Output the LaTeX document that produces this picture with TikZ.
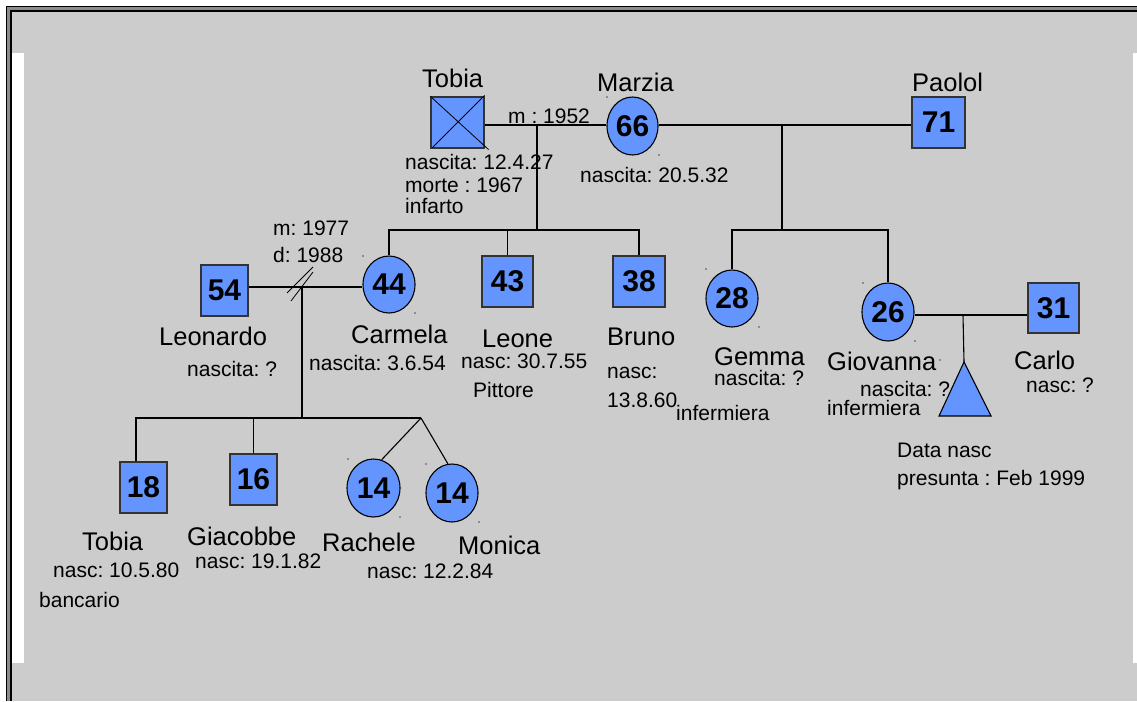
\documentclass[tikz,border=0pt]{standalone}
\usepackage{fontspec}
\setmainfont{Liberation Sans}
\usetikzlibrary{shapes.geometric,calc}
\definecolor{pblue}{RGB}{100,149,255}
\definecolor{bggray}{RGB}{204,204,204}
\frenchspacing
\newcommand\numfnt{\fontsize{30}{32}\selectfont\bfseries}
\newcommand\namefnt{\fontsize{25.5}{28}\selectfont}
\newcommand\inffnt{\fontsize{21}{24}\selectfont}
\tikzset{
  sq/.style={rectangle, draw=black!80, line width=1.2pt, fill=pblue, inner sep=0pt, font=\numfnt},
  ci/.style={ellipse, draw=black, line width=1.1pt, fill=pblue, inner sep=0pt, font=\numfnt},
  nm/.style={anchor=base west, inner sep=0pt, font=\namefnt},
  inf/.style={anchor=base west, inner sep=0pt, font=\inffnt},
  ln/.style={line width=1.1pt, black},
  tick/.style={line width=0.8pt, black},
  speck/.style={fill=black!70}
}
\begin{document}
\frenchspacing
\begin{tikzpicture}[x=1pt,y=-1pt]
\useasboundingbox (0,0) rectangle (1137,701);
\fill[white] (0,0) rectangle (1137,701);
\fill[bggray] (6,6) rectangle (1137,701);
\fill[white] (12,53) rectangle (24,663);
\fill[white] (1133,53) rectangle (1137,663);
\draw[line width=4pt, black!45] (8.7,701) -- (8.7,8.7) -- (1137,8.7);
\draw[line width=1.3pt] (6.5,701) -- (6.5,6.5) -- (1137,6.5);
\draw[line width=1.6pt] (10.8,701) -- (10.8,10.8) -- (1137,10.8);

% persons
\node[sq, minimum width=53, minimum height=51] (tobia) at (457.5,122.5) {};
\draw[tick] (tobia.north west) -- ($(tobia.south east)+(4,1)$);
\draw[tick] ($(tobia.north east)+(0,-1)$) -- ($(tobia.south west)+(2,-1)$);
\node[ci, minimum width=51, minimum height=58] (marzia) at (632.5,126) {66};
\node[sq, minimum width=53, minimum height=51] (paolol) at (938.5,122.5) {71};
\node[sq, minimum width=47, minimum height=51] (s54) at (224.5,290.5) {54};
\node[ci, minimum width=52, minimum height=57] (c44) at (389,284.5) {44};
\node[sq, minimum width=51, minimum height=51] (s43) at (507.5,281.5) {43};
\node[sq, minimum width=52, minimum height=51] (s38) at (639,281.5) {38};
\node[ci, minimum width=52, minimum height=57] (c28) at (732,298.5) {28};
\node[ci, minimum width=52, minimum height=58] (c26) at (888,312) {26};
\node[sq, minimum width=51, minimum height=50] (s31) at (1053.5,308) {31};
\node[sq, minimum width=47, minimum height=51] (s18) at (143.5,487.5) {18};
\node[sq, minimum width=47, minimum height=51] (s16) at (253.5,479.5) {16};
\node[ci, minimum width=53, minimum height=58] (c14a) at (373.5,488) {14};
\node[ci, minimum width=52, minimum height=58] (c14b) at (452,493) {14};
\coordinate (tri) at (964,362);
\filldraw[fill=pblue, draw=black, line width=1.1pt] (tri) -- (991,416) -- (939,416) -- cycle;

% specks
\foreach \p in {(607,97),(659,155),(363,256),(415,313),(706,269),(759,327),(863,283),(915,341),(348,459),(400,517),(426,464),(479,522),(940,360)}
  \fill[speck] \p circle (0.9);

% connectors
\coordinate (m1) at (537,125);
\coordinate (bar1) at (537,230);
\draw[ln] (tobia.east |- m1) -- (marzia.west |- m1);
\draw[ln] (m1) -- (bar1);
\draw[ln] (c44.north) -- (c44.north |- bar1) -- (s38.north |- bar1) -- (s38.north);
\draw[ln] (s43.north) -- (s43.north |- bar1);

\coordinate (m2) at (782,125);
\coordinate (bar2) at (782,230);
\draw[ln] (marzia.east |- m2) -- (paolol.west |- m2);
\draw[ln] (m2) -- (bar2);
\draw[ln] (c28.north) -- (c28.north |- bar2) -- (c26.north |- bar2) -- (c26.north);

\coordinate (m3) at (302,287);
\coordinate (bar3) at (302,418);
\draw[ln] (s54.east |- m3) -- (c44.west |- m3);
\draw[ln] (m3) -- (bar3);
\draw[tick] ($(m3)+(-15,6)$) -- ($(m3)+(11,-20)$);
\draw[tick] ($(m3)+(-11,14)$) -- ($(m3)+(11,-15)$);

\coordinate (k18) at (136,418);
\coordinate (tw) at (421,418);
\draw[ln] (k18 |- s18.north) -- (k18) -- (tw);
\draw[ln] (s16.north) -- (s16.north |- bar3);
\draw[ln] (tw) -- (c14a.74);
\draw[ln] (tw) -- (c14b.98);

\coordinate (gc) at (963,315);
\draw[ln] (c26.east |- gc) -- (s31.west |- gc);
\draw[ln] (gc) -- (tri);

% names
\node[nm] (ntobia) at (422,88) {Tobia};
\node[nm] (nmarzia) at (597,92) {Marzia};
\node[nm] (npaolol) at (912,92) {Paolol};
\node[nm] (nleonardo) at (159,345) {Leonardo};
\node[nm] (ncarmela) at (351,343) {Carmela};
\node[nm] (nleone) at (482,347) {Leone};
\node[nm] (nbruno) at (607,345) {Bruno};
\node[nm] (ngemma) at (714,365) {Gemma};
\node[nm] (ngiovanna) at (827,370) {Giovanna};
\node[nm] (ncarlo) at (1014,369) {Carlo};
\node[nm] (ntobia2) at (82,550) {Tobia};
\node[nm] (ngiacobbe) at (187,545) {Giacobbe};
\node[nm] (nrachele) at (322,551) {Rachele};
\node[nm] (nmonica) at (458,554) {Monica};

% info
\node[inf] (i1) at (508,123) {m : 1952};
\node[inf] (i2) at (405,169) {nascita: 12.4.27};
\node[inf] (i3) at (405,192) {morte : 1967};
\node[inf] (i4) at (405,213) {infarto};
\node[inf] (i5) at (580,182) {nascita: 20.5.32};
\node[inf] (i6) at (273,235) {m: 1977};
\node[inf] (i7) at (273,262) {d: 1988};
\node[inf] (i8) at (187,376) {nascita: ?};
\node[inf] (i9) at (309,370) {nascita: 3.6.54};
\node[inf] (i10) at (461,368) {nasc: 30.7.55};
\node[inf] (i11) at (473,397) {Pittore};
\node[inf] (i12) at (607,378) {nasc:};
\node[inf] (i13) at (607,407) {13.8.60};
\node[inf] (i14) at (676,420) {infermiera};
\node[inf] (i15) at (714,385) {nascita: ?};
\node[inf] (i16) at (860,396) {nascita: ?};
\node[inf] (i17) at (827,415) {infermiera};
\node[inf] (i18) at (1026,392) {nasc: ?};
\node[inf] (i19) at (897,457) {Data nasc};
\node[inf] (i20) at (897,485) {presunta : Feb 1999};
\node[inf] (i21) at (53,577) {nasc: 10.5.80};
\node[inf] (i22) at (39,607) {bancario};
\node[inf] (i23) at (195,568) {nasc: 19.1.82};
\node[inf] (i24) at (367,578) {nasc: 12.2.84};
\end{tikzpicture}
\end{document}
